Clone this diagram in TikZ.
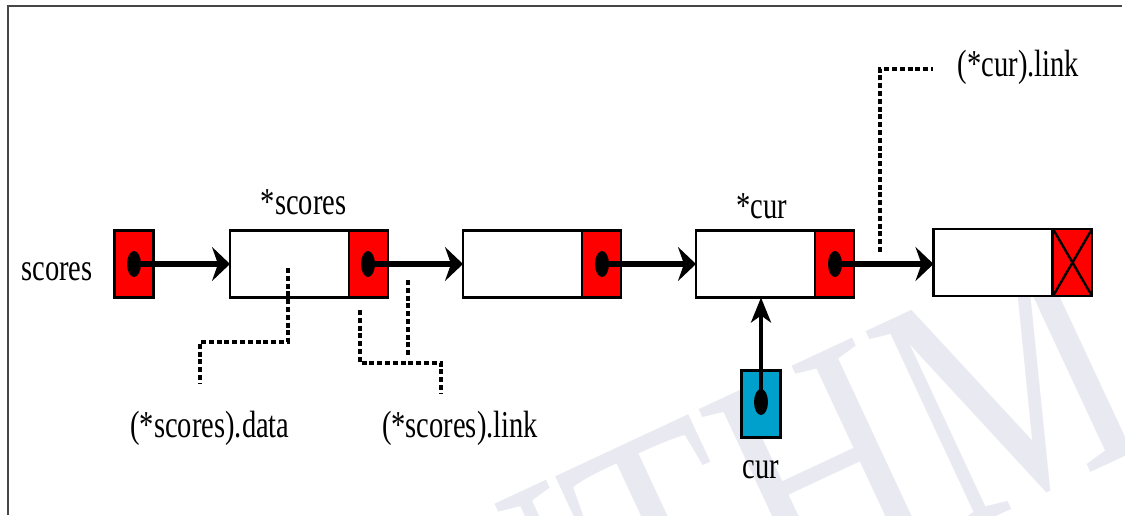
\documentclass[tikz,border=0pt]{standalone}
\usepackage{fontspec}
\setmainfont{Liberation Serif}[FakeStretch=0.75]
\usetikzlibrary{arrows.meta,shapes.geometric}

\definecolor{cellred}{RGB}{255,0,0}
\definecolor{curblue}{RGB}{0,160,204}
\definecolor{framegray}{RGB}{70,70,70}
\definecolor{markgray}{RGB}{233,233,242}

\begin{document}
\begin{tikzpicture}[x=1pt,y=-1pt,
  cell/.style={draw=black, line width=2.8pt, minimum height=67pt,
               inner sep=0pt, outer sep=0pt},
  datacell/.style={cell, fill=white, minimum width=119pt},
  linkcell/.style={cell, fill=cellred, minimum width=39pt},
  ptrcell/.style={cell, minimum width=39pt},
  dot/.style={ellipse, fill=black, inner sep=0pt,
              minimum width=14pt, minimum height=26pt},
  nextarrow/.style={line width=5.5pt,
              -{Stealth[length=18pt 0 0, width=34pt 0 0, inset=6pt 0]}},
  curarrow/.style={line width=4pt,
              -{Stealth[length=25pt 0 0, width=20pt 0 0, inset=7pt 0]}},
  leader/.style={line width=3.6pt, dash pattern=on 5pt off 2.8pt},
  lbl/.style={inner sep=0pt, anchor=base, font=\fontsize{38}{40}\selectfont},
  wm/.style={inner sep=0pt, anchor=base west, rotate=25, text=markgray,
             font=\fontsize{340}{340}\selectfont}
]
% canvas
\useasboundingbox (0,0) rectangle (1125,515);
\fill[white] (0,0) rectangle (1125,515);

% faint background mark
\begin{scope}
  \clip (0,0) rectangle (1125,515);
  \node[wm] (mark) at (478,758) {UTHM};
\end{scope}

% frame
\draw[framegray, line width=2pt] (8,515) -- (8,6) -- (1122,6);

% external pointer "scores"
\node[ptrcell, fill=cellred] (sp) at (134,264) {};
\node[lbl] (spl) at (57,280) {scores};

% list nodes: data part + link part
\node[datacell] (d1) at (289.5,264) {};
\node[linkcell] (l1) at (368.5,264) {};
\node[datacell] (d2) at (522.5,264) {};
\node[linkcell] (l2) at (601.5,264) {};
\node[datacell] (d3) at (755.5,264) {};
\node[linkcell] (l3) at (834.5,264) {};
\node[datacell] (d4) at (993,262.5) {};
\node[linkcell] (l4) at (1072.5,262.5) {};
\draw[line width=2.4pt] (l4.north west) -- (l4.south east)
                        (l4.south west) -- (l4.north east);

% pointer "cur"
\node[ptrcell, fill=curblue] (cp) at (761,404) {};
\node[lbl] (cpl) at (761,478) {cur};

% pointer dots
\node[dot] (p0) at (134,264) {};
\node[dot] (p1) at (368,264) {};
\node[dot] (p2) at (602,264) {};
\node[dot] (p3) at (835,264) {};
\node[dot] (pc) at (761,402) {};

% links
\draw[nextarrow] (p0.center) -- (d1.west);
\draw[nextarrow] (p1.center) -- (d2.west);
\draw[nextarrow] (p2.center) -- (d3.west);
\draw[nextarrow] (p3.center) -- (p3.center -| d4.west);
\draw[curarrow] (pc.center) -- (pc.center |- d3.south);

% node captions
\node[lbl] (t1) at (303.5,214) {*scores};
\node[lbl] (t3) at (762,218) {*cur};

% leader lines to the field names
\coordinate (a1) at (288,268);
\coordinate (a2) at (200,383);
\draw[leader] (a1) -- (288,342) -- (a2 |- 0,342) -- (a2);
\node[lbl] (n1) at (210,437) {(*scores).data};

\coordinate (b1) at (408,280);
\coordinate (b2) at (408,355);
\draw[leader] (b1) -- (b2);
\coordinate (c1) at (360,310);
\coordinate (c2) at (441,393);
\draw[leader] (c1) -- (360,363) -- (c2 |- 0,363) -- (c2);
\node[lbl] (n2) at (460,437) {(*scores).link};

\coordinate (e1) at (880,252);
\coordinate (e2) at (933,69);
\draw[leader] (e1) -- (e1 |- e2) -- (e2);
\node[lbl] (n3) at (1018.5,76) {(*cur).link};
\end{tikzpicture}
\end{document}
